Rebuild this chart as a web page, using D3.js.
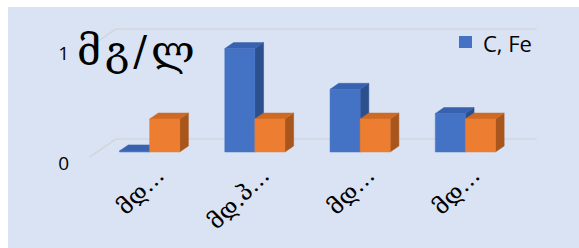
<!DOCTYPE html>
<html>
<head>
<meta charset="utf-8">
<script src="https://cdn.jsdelivr.net/npm/d3@7"></script>
<style>
  html, body { margin: 0; padding: 0; background: #fff; }
  svg { display: block; }
</style>
</head>
<body>
<div id="chart"></div>
<script>
"use strict";

// data
const categories = ["მდ…", "მდ.პ…", "მდ…", "მდ…"];
const series_names = ["C, Fe", "norm"];
const fe_values = [0.01, 0.94, 0.57, 0.35];
const norm_values = [0.3, 0.3, 0.3, 0.3];
const y_ticks = [0, 1];
const unit_label = "მგ/ლ";

const W = 579, H = 248;
const colors = [
    {front: "#4472c4", top: "#3862b0", side: "#2c4f8e"},
    {front: "#ed7d31", top: "#cf6a24", side: "#a8561c"}
];

// depth: px going "into" the picture, shifted right and up
const dzx = 1.45;
const floor_front = -5, floor_back = 13, bar_front = 0, bar_back = 6;

const svg = d3.select("#chart").append("svg")
    .attr("width", W)
    .attr("height", H);

svg.append("rect")
    .attr("x", 8).attr("y", 7)
    .attr("width", W - 8).attr("height", H - 7)
    .style("fill", "#dae3f3");

const x = d3.scaleBand().domain(d3.range(categories.length)).range([97, 518]);
const y = d3.scaleLinear().domain([0, 1]).range([152, 42]);

const proj = function(px, py, z){
    return [px + z * dzx, py - z];
};

// gridlines on the back wall + left wall edge
const grid = svg.append("g");
y_ticks.forEach((t) => {
    const left = x.range()[0], right = x.range()[1];
    const a = proj(left, y(t), floor_front);
    const b = proj(left, y(t), floor_back);
    const c = proj(right, y(t), floor_back);
    grid.append("polyline")
        .attr("points", [a, b, c].map((p) => p.join(",")).join(" "))
        .style("fill", "none")
        .style("stroke", "#d3d6dc")
        .style("stroke-width", 1.6);
});

// value labels, sitting on the front plane
svg.append("g").selectAll("text")
    .data(y_ticks)
    .join("text")
    .attr("x", 69)
    .attr("y", (d) => proj(0, y(d), floor_front)[1] + 13)
    .attr("text-anchor", "end")
    .style("font-family", "Open Sans")
    .style("font-size", "19px")
    .style("fill", "#000")
    .text((d) => d);

// bars
const inner = d3.scaleBand().domain([0, 1])
    .range([0, x.bandwidth()]).paddingOuter(0.75).paddingInner(0);

const all_series = [fe_values, norm_values];
const bars = svg.append("g");
categories.forEach((cat, i) => {
    all_series.forEach((vals, s) => {
        const x0 = x(i) + inner(s), x1 = x0 + inner.bandwidth();
        const yt = y(vals[i]), yb = y(0);
        const col = colors[s];
        const poly = function(pts, fill){
            bars.append("polygon")
                .attr("points", pts.map((p) => p.join(",")).join(" "))
                .style("fill", fill)
                .style("stroke", fill)
                .style("stroke-width", 0.5)
                .style("stroke-linejoin", "round");
        };
        // side face
        poly([proj(x1, yt, bar_front), proj(x1, yt, bar_back), proj(x1, yb, bar_back), proj(x1, yb, bar_front)], col.side);
        // top face
        poly([proj(x0, yt, bar_front), proj(x0, yt, bar_back), proj(x1, yt, bar_back), proj(x1, yt, bar_front)], col.top);
        // front face
        poly([proj(x0, yt, bar_front), proj(x1, yt, bar_front), proj(x1, yb, bar_front), proj(x0, yb, bar_front)], col.front);
    });
});

// category labels, rotated
svg.append("g").selectAll("text")
    .data(categories)
    .join("text")
    .attr("transform", (d, i) => {
        const cx = x(i) + x.bandwidth() / 2 + 16;
        return "translate(" + cx + ",177) rotate(-45)";
    })
    .attr("text-anchor", "end")
    .style("font-family", "DejaVu Serif, DejaVu Sans")
    .style("font-size", "23px")
    .style("fill", "#000")
    .text((d) => d);

// unit title
svg.append("text")
    .attr("x", 77)
    .attr("y", 65)
    .style("font-family", "DejaVu Serif, DejaVu Sans")
    .style("font-size", "41px")
    .style("letter-spacing", "4px")
    .style("fill", "#000")
    .text(unit_label);

// legend, only first series shown
const legend = svg.append("g").attr("transform", "translate(459,36)");
legend.append("rect")
    .attr("width", 13).attr("height", 12)
    .style("fill", colors[0].front);
legend.append("text")
    .attr("x", 24).attr("y", 16)
    .style("font-family", "Open Sans")
    .style("font-size", "22px")
    .style("fill", "#000")
    .text(series_names[0]);
</script>
</body>
</html>
